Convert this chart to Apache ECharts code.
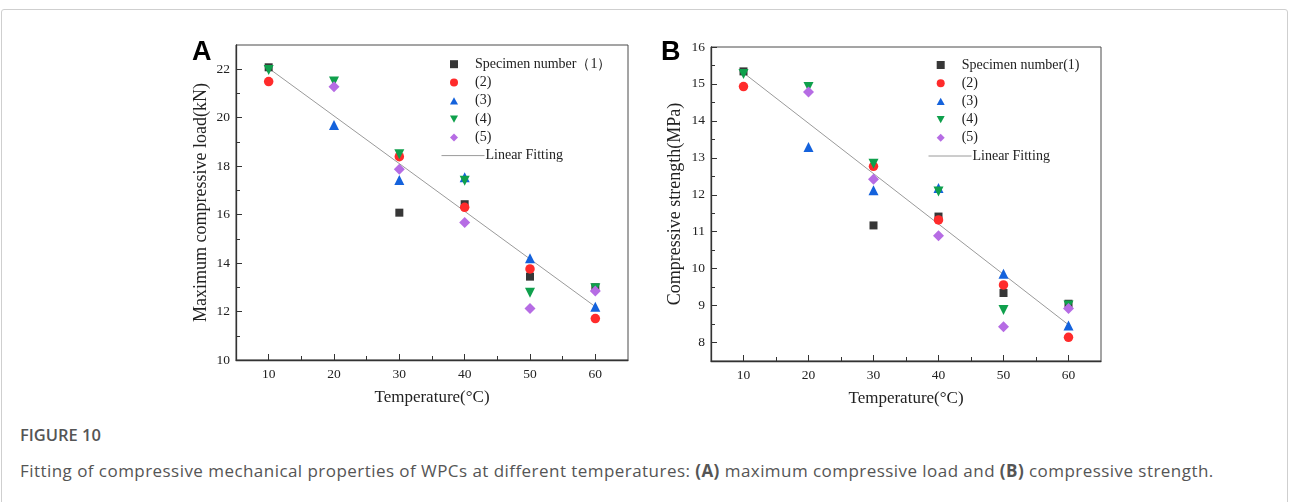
<!DOCTYPE html>
<html>
<head>
<meta charset="utf-8">
<script src="https://cdn.jsdelivr.net/npm/echarts@6/dist/echarts.min.js"></script>
<style>
  html, body { margin: 0; padding: 0; background: #fff; width: 1290px; height: 502px; overflow: hidden; }
  #frame { position: absolute; left: 1px; top: 9px; width: 1285px; height: 520px; border: 1px solid #cfcfcf; border-radius: 3px; }
  #chart { position: absolute; left: 0; top: 0; width: 1290px; height: 415px; }
  #figlabel { position: absolute; left: 20px; top: 423px; font-family: "Open Sans", sans-serif; font-weight: 600; font-size: 16.5px; color: #555; }
  #caption { position: absolute; left: 20px; top: 459px; font-family: "Open Sans", sans-serif; font-size: 17px; letter-spacing: 0.45px; color: #555; white-space: nowrap; }
  #caption b { font-weight: 700; }
</style>
</head>
<body>
<div id="frame"></div>
<div id="chart"></div>
<div id="figlabel">FIGURE 10</div>
<div id="caption">Fitting of compressive mechanical properties of WPCs at different temperatures: <b>(A)</b> maximum compressive load and <b>(B)</b> compressive strength.</div>
<script>
// ---------- data ----------
const temperatures = [10, 20, 30, 40, 50, 60];
const xTickLabels = [10, 20, 30, 40, 50, 60];
const xMinorTicks = [15, 25, 35, 45, 55];

// Panel A: maximum compressive load (kN)
const loadSpec1 = [22.08, null, 16.08, 16.43, 13.44, 13.00];
const loadSpec2 = [21.49, null, 18.39, 16.30, 13.76, 11.71];
const loadSpec3 = [null, 19.70, 17.43, 17.54, 14.20, 12.20];
const loadSpec4 = [21.97, 21.49, 18.49, 17.40, 12.78, 12.96];
const loadSpec5 = [null, 21.28, 17.87, 15.67, 12.13, 12.85];
const loadFitX = [10, 60];
const loadFitY = [22.04, 12.20];
const loadYTicks = [10, 12, 14, 16, 18, 20, 22];
const loadYMinor = [11, 13, 15, 17, 19, 21];

// Panel B: compressive strength (MPa)
const strSpec1 = [15.34, null, 11.17, 11.41, 9.34, 9.05];
const strSpec2 = [14.93, null, 12.77, 11.32, 9.56, 8.14];
const strSpec3 = [null, 13.29, 12.12, 12.18, 9.86, 8.46];
const strSpec4 = [15.27, 14.92, 12.84, 12.09, 8.88, 9.00];
const strSpec5 = [null, 14.78, 12.42, 10.89, 8.43, 8.92];
const strFitX = [10, 60];
const strFitY = [15.30, 8.48];
const strYTicks = [8, 9, 10, 11, 12, 13, 14, 15, 16];
const strYMinor = [8.5, 9.5, 10.5, 11.5, 12.5, 13.5, 14.5, 15.5];

const namesA = ['Specimen number\uFF081\uFF09', '(2)', '(3)', '(4)', '(5)'];
const namesB = ['Specimen number(1)', '(2)', '(3)', '(4)', '(5)'];
const fitName = 'Linear Fitting';

// ---------- styles ----------
const SERIF = '"Liberation Serif", "DejaVu Serif", serif';
const markerStyles = [
  { symbol: 'rect', size: 8, rotate: 0, color: '#373737', icon: 'path://M1,1L9,1L9,9L1,9Z' },
  { symbol: 'circle', size: 9.5, rotate: 0, color: '#ff2b2b', icon: 'circle' },
  { symbol: 'triangle', size: 10, rotate: 0, color: '#1462dc', icon: 'path://M5,0L10,9L0,9Z' },
  { symbol: 'triangle', size: 10, rotate: 180, color: '#0fa04c', icon: 'path://M0,0L10,0L5,9Z' },
  { symbol: 'diamond', size: 11, rotate: 0, color: '#b66ce4', icon: 'path://M5,0L10,5L5,10L0,5Z' }
];

function pairs(xs, ys) { return xs.map((x, i) => [x, ys[i]]); }

function scatterSeries(names, specs, gi) {
  return specs.map((vals, k) => ({
    type: 'scatter',
    name: names[k],
    xAxisIndex: gi * 2,
    yAxisIndex: gi * 2,
    data: pairs(temperatures, vals).filter(p => p[1] !== null),
    symbol: markerStyles[k].symbol,
    symbolSize: markerStyles[k].size,
    symbolRotate: markerStyles[k].rotate,
    itemStyle: { color: markerStyles[k].color, opacity: 1 },
    z: 3 + k,
    emphasis: { disabled: true }
  }));
}

function fitSeries(xs, ys, gi) {
  return {
    type: 'line', name: fitName, xAxisIndex: gi * 2, yAxisIndex: gi * 2,
    data: pairs(xs, ys), symbol: 'none', showSymbol: false,
    itemStyle: { color: '#9a9a9a' },
    lineStyle: { color: '#9a9a9a', width: 1 }, z: 2, silent: true
  };
}

function xAxes(gi) {
  return [
    {
      type: 'value', gridIndex: gi, min: 5, max: 65,
      axisLine: { show: true, onZero: false, lineStyle: { color: '#333', width: 1.3 } },
      axisTick: { show: true, inside: true, length: 6, customValues: xTickLabels, lineStyle: { color: '#333', width: 1 } },
      axisLabel: { customValues: xTickLabels, fontFamily: SERIF, fontSize: 13.5, color: '#222', margin: 7 },
      splitLine: { show: false },
      name: 'Temperature(\u00B0C)', nameLocation: 'middle', nameGap: 29,
      nameTextStyle: { fontFamily: SERIF, fontSize: 17, color: '#222' }
    },
    {
      type: 'value', gridIndex: gi, min: 5, max: 65, position: 'bottom',
      axisLine: { show: false },
      axisTick: { show: true, inside: true, length: 4, customValues: xMinorTicks, lineStyle: { color: '#333', width: 1 } },
      axisLabel: { show: false }, splitLine: { show: false }
    }
  ];
}

function yAxes(gi, min, max, ticks, minor, title, gap) {
  return [
    {
      type: 'value', gridIndex: gi, min: min, max: max,
      axisLine: { show: true, onZero: false, lineStyle: { color: '#333', width: 1.3 } },
      axisTick: { show: true, inside: true, length: 6, customValues: ticks, lineStyle: { color: '#333', width: 1 } },
      axisLabel: { customValues: ticks, fontFamily: SERIF, fontSize: 13.5, color: '#222', margin: 6 },
      splitLine: { show: false },
      name: title, nameLocation: 'middle', nameGap: gap,
      nameTextStyle: { fontFamily: SERIF, fontSize: 18, color: '#222' }
    },
    {
      type: 'value', gridIndex: gi, min: min, max: max, position: 'left',
      axisLine: { show: false },
      axisTick: { show: true, inside: true, length: 4, customValues: minor, lineStyle: { color: '#333', width: 1 } },
      axisLabel: { show: false }, splitLine: { show: false }
    }
  ];
}

// marker legends: 8px icons, text pushed right so it starts 21px after the icon centre
const markerLegendText = { fontFamily: SERIF, fontSize: 14, color: '#222', lineHeight: 14, padding: [0, 0, 0, 12] };
const lineLegendText = { fontFamily: SERIF, fontSize: 14, color: '#222', lineHeight: 14, padding: [0, 0, 0, -4] };

function legendItems(names) {
  return names.map((n, k) => ({
    name: n,
    icon: markerStyles[k].icon,
    itemStyle: { color: markerStyles[k].color }
  }));
}

const option = {
  animation: false,
  backgroundColor: 'transparent',
  grid: [
    { left: 236, top: 45, width: 392, height: 315, show: true, borderColor: '#4a4a4a', borderWidth: 1, backgroundColor: 'transparent' },
    { left: 711, top: 47, width: 390, height: 314, show: true, borderColor: '#4a4a4a', borderWidth: 1, backgroundColor: 'transparent' }
  ],
  xAxis: [...xAxes(0), ...xAxes(1)],
  yAxis: [
    ...yAxes(0, 10, 23, loadYTicks, loadYMinor, 'Maximum compressive load(kN)', 26),
    ...yAxes(1, 7.5, 16, strYTicks, strYMinor, 'Compressive strength(MPa)', 27)
  ],
  legend: [
    { data: legendItems(namesA), orient: 'vertical', left: 450, top: 57.2, padding: 0, itemWidth: 8, itemHeight: 8, itemGap: 4.3, textStyle: markerLegendText, selectedMode: false },
    { data: [fitName], orient: 'vertical', left: 441, top: 148.6, padding: 0, itemWidth: 43, itemHeight: 8, itemGap: 0, itemStyle: { opacity: 0 }, lineStyle: { color: '#9a9a9a', width: 1 }, textStyle: lineLegendText, selectedMode: false },
    { data: legendItems(namesB), orient: 'vertical', left: 936.7, top: 58, padding: 0, itemWidth: 8, itemHeight: 8, itemGap: 4.2, textStyle: markerLegendText, selectedMode: false },
    { data: [fitName], orient: 'vertical', left: 928, top: 149, padding: 0, itemWidth: 43, itemHeight: 8, itemGap: 0, itemStyle: { opacity: 0 }, lineStyle: { color: '#9a9a9a', width: 1 }, textStyle: lineLegendText, selectedMode: false }
  ],
  graphic: [
    { type: 'text', left: 192, top: 39, style: { text: 'A', font: 'bold 27px "Liberation Sans", Arial, sans-serif', fill: '#000' } },
    { type: 'text', left: 661, top: 39, style: { text: 'B', font: 'bold 27px "Liberation Sans", Arial, sans-serif', fill: '#000' } }
  ],
  series: [
    fitSeries(loadFitX, loadFitY, 0),
    ...scatterSeries(namesA, [loadSpec1, loadSpec2, loadSpec3, loadSpec4, loadSpec5], 0),
    fitSeries(strFitX, strFitY, 1),
    ...scatterSeries(namesB, [strSpec1, strSpec2, strSpec3, strSpec4, strSpec5], 1)
  ]
};

const chart = echarts.init(document.getElementById('chart'), null, { renderer: 'canvas' });
chart.setOption(option);
</script>
</body>
</html>
